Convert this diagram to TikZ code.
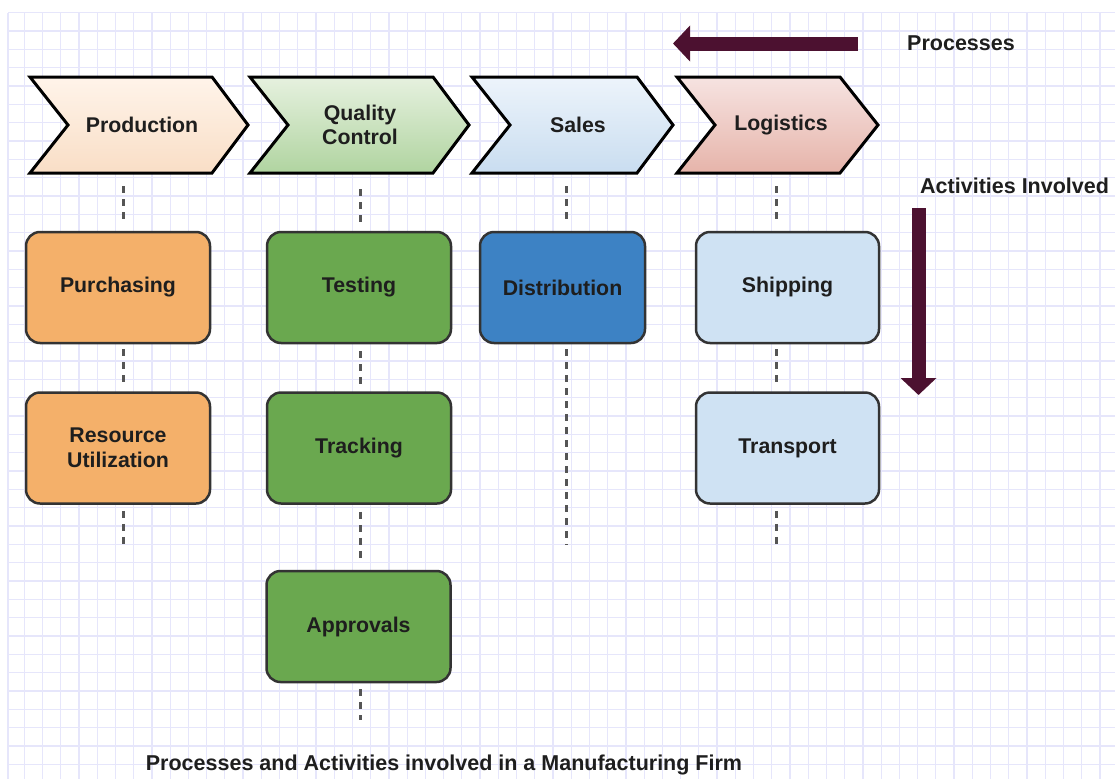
\documentclass[tikz,border=0pt]{standalone}
\usepackage{fontspec}
\setmainfont{Liberation Sans}
\usetikzlibrary{arrows.meta,calc}
\definecolor{gridc}{RGB}{230,230,251}
\definecolor{prodtop}{HTML}{FFF4EA}
\definecolor{prodbot}{HTML}{F9DEC6}
\definecolor{qctop}{HTML}{E6F1DF}
\definecolor{qcbot}{HTML}{B0D4A0}
\definecolor{salestop}{HTML}{EDF4FB}
\definecolor{salesbot}{HTML}{C9DDF0}
\definecolor{logtop}{HTML}{F6E3E1}
\definecolor{logbot}{HTML}{E6B4AA}
\definecolor{orangebox}{HTML}{F4B06A}
\definecolor{greenbox}{HTML}{6AA84F}
\definecolor{bluebox}{HTML}{3D82C4}
\definecolor{lightbox}{HTML}{CFE2F3}
\definecolor{maroonc}{HTML}{4C1130}
\definecolor{txtc}{HTML}{1E1E1E}
\definecolor{dashc}{HTML}{555555}
\definecolor{boxline}{HTML}{333333}
\tikzset{
  chev/.style={draw=black, line width=3pt, line join=miter},
  chevlabel/.style={minimum height=96pt, minimum width=120pt, inner sep=0pt, align=center, text=txtc,
    font=\fontsize{21.3}{24.5}\selectfont\bfseries},
  actbox/.style={draw=boxline, line width=2.5pt, rounded corners=14pt, minimum width=184pt,
    minimum height=111pt, inner sep=0pt, align=center, text=txtc,
    font=\fontsize{21.3}{25}\selectfont\bfseries},
  dline/.style={draw=dashc, line width=3pt, dash pattern=on 7pt off 6pt},
  bigarrow/.style={draw=maroonc, line width=14pt, -{Triangle[length=17pt,width=35pt]}},
  plainlabel/.style={inner sep=0pt, text=txtc, font=\fontsize{21.5}{24}\selectfont\bfseries}
}
\begin{document}
\begin{tikzpicture}[x=1pt,y=-1pt]
\useasboundingbox (0,0) rectangle (1115,779);
\fill[white] (0,0) rectangle (1115,779);
% grid
\foreach \i in {1,...,60} {
  \draw[gridc, line width=1.2pt] ({6.1+18.23*\i},12.7) -- ({6.1+18.23*\i},779);
}
\foreach \j in {0,...,41} {
  \draw[gridc, line width=1.2pt] (8,{12.7+18.33*\j}) -- (1115,{12.7+18.33*\j});
}
\draw[gridc, line width=1.2pt] (8,12.7) -- (8,779);

% chevrons
\shadedraw[chev, top color=prodtop, bottom color=prodbot]
  (30,77) -- (212,77) -- (248,125) -- (212,173) -- (30,173) -- (68,125) -- cycle;
\shadedraw[chev, top color=qctop, bottom color=qcbot]
  (250,77) -- (433,77) -- (469,125) -- (433,173) -- (250,173) -- (288,125) -- cycle;
\shadedraw[chev, top color=salestop, bottom color=salesbot]
  (472,77) -- (637,77) -- (673,125) -- (637,173) -- (472,173) -- (510,125) -- cycle;
\shadedraw[chev, top color=logtop, bottom color=logbot]
  (677,77) -- (840,77) -- (878,125) -- (840,173) -- (677,173) -- (715,125) -- cycle;

\node[chevlabel] (prod) at (142,125) {Production};
\node[chevlabel] (qc) at (360,125) {Quality\\Control};
\node[chevlabel] (sales) at (578,125) {Sales};
\node[chevlabel] (logi) at (781,125) {Logistics};

% activity boxes
\node[actbox, fill=orangebox] (purch) at (118,287.5) {Purchasing};
\node[actbox, fill=orangebox] (resource) at (118,448) {Resource\\Utilization};
\node[actbox, fill=greenbox] (testing) at (359,287.5) {Testing};
\node[actbox, fill=greenbox] (tracking) at (359,448) {Tracking};
\node[actbox, fill=greenbox] (approv) at (358.5,626.5) {Approvals};
\node[actbox, fill=bluebox, minimum width=165pt] (dist) at (562.5,287.5) {Distribution};
\node[actbox, fill=lightbox, minimum width=183pt] (ship) at (787.5,287.5) {Shipping};
\node[actbox, fill=lightbox, minimum width=183pt] (trans) at (787.5,448) {Transport};

% column guides
\coordinate (c1) at (123,0);
\coordinate (c2) at (360,0);
\coordinate (c3) at (566.7,0);
\coordinate (c4) at (776.7,0);
\coordinate (e1) at (123,545);
\coordinate (e2) at (360,720);
\coordinate (e3) at (566.7,545);
\coordinate (e4) at (776.7,545);

\draw[dline, shorten <=13pt, shorten >=6pt] (prod.south -| c1) -- (purch.north -| c1);
\draw[dline, shorten <=5pt, shorten >=9pt] (purch.south -| c1) -- (resource.north -| c1);
\draw[dline, shorten <=6pt] (resource.south -| c1) -- (e1);

\draw[dline, shorten <=16pt, shorten >=6pt] (qc.south -| c2) -- (testing.north -| c2);
\draw[dline, shorten <=7pt, shorten >=7pt] (testing.south -| c2) -- (tracking.north -| c2);
\draw[dline, shorten <=7pt, shorten >=9pt] (tracking.south -| c2) -- (approv.north -| c2);
\draw[dline, shorten <=6pt] (approv.south -| c2) -- (e2);

\draw[dline, shorten <=13pt, shorten >=6pt] (sales.south -| c3) -- (dist.north -| c3);
\draw[dline, shorten <=5pt] (dist.south -| c3) -- (e3);

\draw[dline, shorten <=13pt, shorten >=6pt] (logi.south -| c4) -- (ship.north -| c4);
\draw[dline, shorten <=5pt, shorten >=9pt] (ship.south -| c4) -- (trans.north -| c4);
\draw[dline, shorten <=6pt] (trans.south -| c4) -- (e4);

% direction arrows
\coordinate (pa1) at (858,43.5);
\coordinate (pa2) at (673,43.5);
\draw[bigarrow] (pa1) -- (pa2);
\coordinate (da1) at (918.5,208);
\coordinate (da2) at (918.5,395);
\draw[bigarrow] (da1) -- (da2);

% labels
\node[plainlabel, anchor=west] (proclabel) at (907,43) {Processes};
\node[plainlabel, anchor=west] (actlabel) at (920,186) {Activities Involved};
\node[plainlabel] (title) at (444,765) {Processes and Activities involved in a Manufacturing Firm};
\end{tikzpicture}
\end{document}
